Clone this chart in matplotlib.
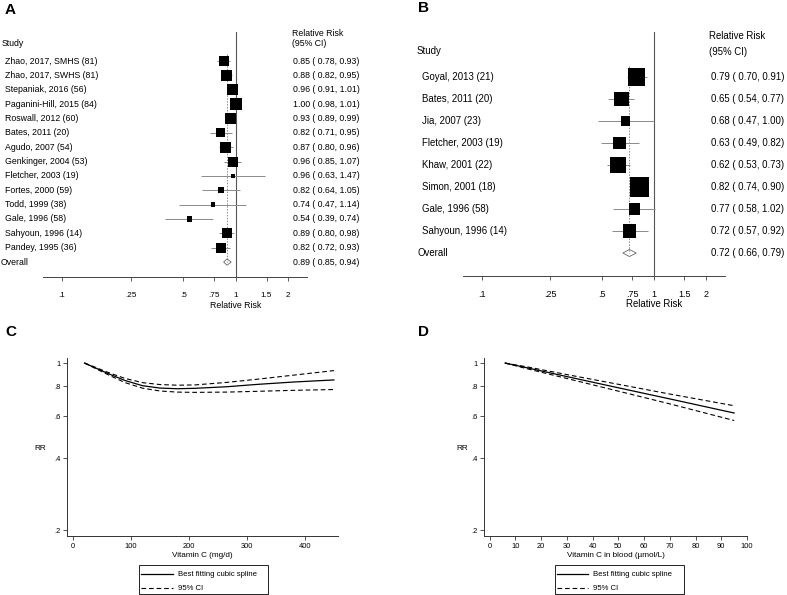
import numpy as np
import matplotlib
matplotlib.use("Agg")
import matplotlib.pyplot as plt
from matplotlib.patches import Polygon, Rectangle

plt.rcParams['font.family'] = ['Liberation Sans', 'DejaVu Sans']

# ---------------- data ----------------
names_a = ["Zhao, 2017, SMHS (81)", "Zhao, 2017, SWHS (81)", "Stepaniak, 2016 (56)",
           "Paganini-Hill, 2015 (84)", "Roswall, 2012 (60)", "Bates, 2011 (20)",
           "Agudo, 2007 (54)", "Genkinger, 2004 (53)", "Fletcher, 2003 (19)",
           "Fortes, 2000 (59)", "Todd, 1999 (38)", "Gale, 1996 (58)",
           "Sahyoun, 1996 (14)", "Pandey, 1995 (36)"]
rr_a = [0.85, 0.88, 0.96, 1.00, 0.93, 0.82, 0.87, 0.96, 0.96, 0.82, 0.74, 0.54, 0.89, 0.82]
lo_a = [0.78, 0.82, 0.91, 0.98, 0.89, 0.71, 0.80, 0.85, 0.63, 0.64, 0.47, 0.39, 0.80, 0.72]
hi_a = [0.93, 0.95, 1.01, 1.01, 0.99, 0.95, 0.96, 1.07, 1.47, 1.05, 1.14, 0.74, 0.98, 0.93]
weights_a = [8.0, 9.7, 9.7, 12.8, 10.9, 6.5, 10.2, 8.0, 1.3, 2.9, 1.5, 2.2, 8.5, 8.0]
overall_a = [0.89, 0.85, 0.94]

names_b = ["Goyal, 2013 (21)", "Bates, 2011 (20)", "Jia, 2007 (23)", "Fletcher, 2003 (19)",
           "Khaw, 2001 (22)", "Simon, 2001 (18)", "Gale, 1996 (58)", "Sahyoun, 1996 (14)"]
rr_b = [0.79, 0.65, 0.68, 0.63, 0.62, 0.82, 0.77, 0.72]
lo_b = [0.70, 0.54, 0.47, 0.49, 0.53, 0.74, 0.58, 0.57]
hi_b = [0.91, 0.77, 1.00, 0.82, 0.73, 0.90, 1.02, 0.92]
weights_b = [17.7, 13.3, 4.8, 9.5, 15.2, 21.4, 7.6, 10.5]
overall_b = [0.72, 0.66, 0.79]

forest_ticks = [0.1, 0.25, 0.5, 0.75, 1, 1.5, 2]
forest_ticklabels = [".1", ".25", ".5", ".75", "1", "1.5", "2"]

# dose-response, intake (panel C)
dose_c = [20, 60, 90, 120, 150, 180, 210, 265, 320, 380, 450]
rr_c = [1.00, 0.905, 0.845, 0.804, 0.786, 0.781, 0.784, 0.796, 0.815, 0.833, 0.850]
up_c = [1.00, 0.915, 0.862, 0.828, 0.813, 0.808, 0.810, 0.830, 0.857, 0.890, 0.930]
lw_c = [1.00, 0.895, 0.828, 0.785, 0.764, 0.756, 0.754, 0.756, 0.762, 0.769, 0.775]
xticks_c = [0, 100, 200, 300, 400]

# dose-response, blood level (panel D)
dose_d = [6, 15, 30, 50, 70, 95]
rr_d = [1.00, 0.953, 0.878, 0.788, 0.708, 0.618]
up_d = [1.00, 0.962, 0.895, 0.815, 0.742, 0.663]
lw_d = [1.00, 0.944, 0.862, 0.763, 0.675, 0.575]
xticks_d = list(range(0, 101, 10))

rr_ticks = [0.2, 0.4, 0.6, 0.8, 1.0]
rr_ticklabels = [".2", ".4", ".6", ".8", "1"]

legend_labels = ["Best fitting cubic spline", "95% CI"]

# ---------------- layout helpers ----------------
W, H = 787, 595
fig = plt.figure(figsize=(W / 100, H / 100), dpi=100)


def fx(x):
    return x / W


def fy(y):
    return 1 - y / H


def rect(l, t, r, b):
    return [fx(l), fy(b), (r - l) / W, (b - t) / H]


PT = 0.72  # points per pixel
CI_COL = "#8a8a8a"


def forest(box, xlim, row0, step, names, rr, lo, hi, wts, overall, scale, fs,
           name_x, study_xy, overall_x, hdr_x, hdr_ys, val_x, tick_pad, xlabel_y,
           dia_h):
    l, t, r, b = box
    ax = fig.add_axes(rect(l, t, r, b))
    ax.set_xscale("log")
    ax.set_xlim(*xlim)
    n = len(names)
    ax.set_ylim((b - row0) / step, (t - row0) / step)
    idx = np.arange(n)
    ax.hlines(idx, lo, hi, color=CI_COL, lw=0.7, zorder=2)
    side_pt = scale * np.sqrt(np.array(wts)) * PT
    ax.scatter(rr, idx, s=side_pt ** 2, marker="s", color="black", lw=0, zorder=3)
    ax.axvline(1, color="#555555", lw=0.8, zorder=1)
    est, olo, ohi = overall
    ax.plot([est, est], [-0.5, n], ls=(0, (1.5, 1.5)), color="#8a8a8a", lw=0.7, zorder=1)
    ax.add_patch(Polygon([(olo, n), (est, n - dia_h), (ohi, n), (est, n + dia_h)],
                         closed=True, fill=False, edgecolor="#666666", lw=0.6, zorder=3))
    for s in ["left", "right", "top"]:
        ax.spines[s].set_visible(False)
    ax.spines["bottom"].set_color("#444444")
    ax.spines["bottom"].set_linewidth(0.7)
    ax.set_yticks([])
    ax.minorticks_off()
    ax.set_xticks(forest_ticks)
    ax.set_xticklabels(forest_ticklabels)
    ax.tick_params(axis="x", direction="out", length=3, width=0.6, color="#444444",
                   pad=tick_pad, labelsize=fs - 0.4)
    ax.minorticks_off()
    # texts
    fig.text(fx(study_xy[0]), fy(study_xy[1]), "Study", fontsize=fs, ha="left", va="center")
    fig.text(fx(hdr_x), fy(hdr_ys[0]), "Relative Risk", fontsize=fs, ha="left", va="center")
    fig.text(fx(hdr_x), fy(hdr_ys[1]), "(95% CI)", fontsize=fs, ha="left", va="center")
    for i in range(n):
        ypx = row0 + i * step
        fig.text(fx(name_x), fy(ypx), names[i], fontsize=fs, ha="left", va="center")
        fig.text(fx(val_x), fy(ypx), f"{rr[i]:.2f} ( {lo[i]:.2f}, {hi[i]:.2f})",
                 fontsize=fs, ha="left", va="center")
    ypx = row0 + n * step
    fig.text(fx(overall_x), fy(ypx), "Overall", fontsize=fs, ha="left", va="center")
    fig.text(fx(val_x), fy(ypx), f"{est:.2f} ( {olo:.2f}, {ohi:.2f})",
             fontsize=fs, ha="left", va="center")
    # x title centered at RR = 1
    x1 = ax.transData.transform((1, 0))[0]
    x1 = fig.transFigure.inverted().transform((x1, 0))[0]
    fig.text(x1, fy(xlabel_y), "Relative Risk", fontsize=fs, ha="center", va="center")
    return ax


forest((43, 32, 307, 277), (0.078, 2.56), 61.0, 14.36, names_a, rr_a, lo_a, hi_a,
       weights_a, overall_a, 3.54, 6.3, 5, (2, 43), 1, 292, (33, 43), 293, 8.0, 305, 0.22)
forest((463, 32, 725, 276), (0.0776, 2.59), 77.0, 22.0, names_b, rr_b, lo_b, hi_b,
       weights_b, overall_b, 4.11, 6.9, 422, (417, 51), 417, 709, (36, 52), 711, 7.0, 304, 0.16)

DASH = (0, (4.2, 2.6))
LEG_FS = 5.6


def spline_panel(box, xlim, xticks, x, rr, up, lw, rr_x, xlabel, leg_box):
    l, t, r, b = box
    ax = fig.add_axes(rect(l, t, r, b))
    ax.set_yscale("log")
    ax.set_xlim(*xlim)
    ax.set_ylim(0.189, 1.05)
    h1, = ax.plot(x, rr, color="black", lw=0.9)
    h2, = ax.plot(x, up, color="black", lw=0.8, ls=DASH)
    ax.plot(x, lw, color="black", lw=0.8, ls=DASH)
    for s in ["right", "top"]:
        ax.spines[s].set_visible(False)
    for s in ["left", "bottom"]:
        ax.spines[s].set_color("#333333")
        ax.spines[s].set_linewidth(0.7)
    ax.minorticks_off()
    ax.set_yticks(rr_ticks)
    ax.set_yticklabels(rr_ticklabels)
    ax.set_xticks(xticks)
    ax.minorticks_off()
    ax.tick_params(direction="out", length=3, width=0.6, color="#333333", labelsize=5.4)
    ax.tick_params(axis="x", pad=2.0)
    ax.tick_params(axis="y", pad=1.5)
    fig.text(fx(rr_x), fy(448), "RR", fontsize=5.9, ha="center", va="center")
    fig.text(fx((l + r) / 2), fy(555.5), xlabel, fontsize=5.9, ha="center", va="center")
    # legend box (frame drawn separately, bottom is at the figure edge)
    ll, lt, lr, lb = leg_box
    fig.patches.append(Rectangle((fx(ll), fy(lb)), (lr - ll) / W, (lb - lt) / H,
                                 transform=fig.transFigure, fill=False,
                                 edgecolor="black", lw=0.6))
    fsp = LEG_FS / PT
    ax.legend([h1, h2], legend_labels, loc="upper left",
              bbox_to_anchor=(fx(ll + 2.3), fy(lt + 6.5)),
              bbox_transform=fig.transFigure, borderaxespad=0, borderpad=0,
              fontsize=LEG_FS, handlelength=31.5 / fsp, handletextpad=5.0 / fsp,
              labelspacing=0.82, frameon=False)
    return ax


spline_panel((67, 358, 338, 536), (-10.3, 457), xticks_c, dose_c, rr_c, up_c, lw_c,
             40, "Vitamin C (mg/d)", (139, 564.5, 268, 594))
spline_panel((484, 358, 747, 536), (-2.2, 100), xticks_d, dose_d, rr_d, up_d, lw_d,
             462, "Vitamin C in blood (\u00b5mol/L)", (554.5, 564.5, 684, 594))

for letter, (x, y) in {"A": (5, 10), "B": (418, 8), "C": (5, 332), "D": (418, 332)}.items():
    fig.text(fx(x), fy(y), letter, fontsize=11, fontweight="bold", ha="left", va="center")

fig.savefig("out.png", dpi=100)
